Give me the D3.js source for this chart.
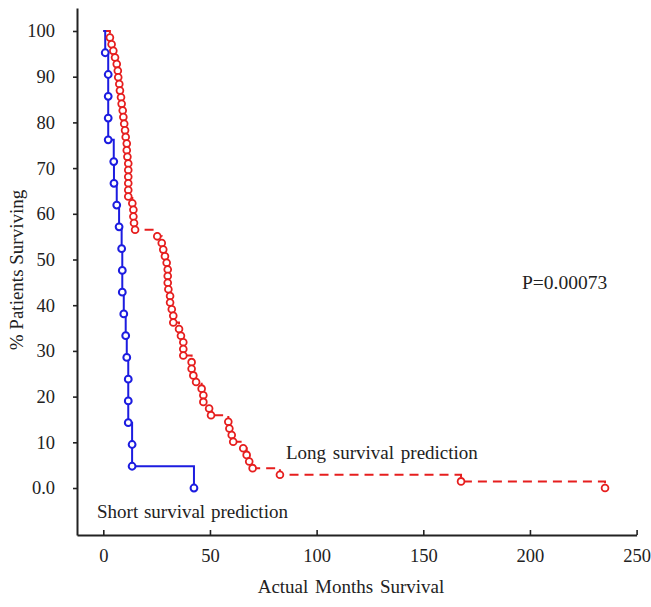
<!DOCTYPE html>
<html>
<head>
<meta charset="utf-8">
<script src="https://cdn.jsdelivr.net/npm/d3@7"></script>
<style>
  html, body { margin: 0; padding: 0; background: #fff; }
  svg { display: block; }
  text { font-family: "Liberation Serif", "Times New Roman", serif; fill: #222; }
</style>
</head>
<body>
<script>
// ---- data ----
const xTicks = [0, 50, 100, 150, 200, 250];
const yTicks = [0, 10, 20, 30, 40, 50, 60, 70, 80, 90, 100];

// Short survival prediction (months, % surviving at each step)
const shortMonths = [0.9, 2.3, 2.3, 2.3, 2.3, 4.9, 5.0, 6.3, 7.4, 8.6, 8.9, 8.9, 9.6, 10.5, 11.0, 11.7, 11.7, 11.7, 13.5, 13.5, 42.5];
const shortSurv   = [95.24, 90.48, 85.71, 80.95, 76.19, 71.43, 66.67, 61.90, 57.14, 52.38, 47.62, 42.86, 38.10, 33.33, 28.57, 23.81, 19.05, 14.29, 9.52, 4.76, 0];

// Long survival prediction
const longMonths = [3.1, 3.9, 4.7, 5.5, 6.3, 6.8, 7.0, 7.5, 7.8, 8.3, 8.6, 9.1, 9.4, 9.8, 10.2, 10.5, 11.0, 11.0, 11.3, 11.7,
  11.7, 11.7, 11.7, 11.7, 11.7, 13.6, 14.1, 14.1, 14.4, 14.9,
  25.3, 27.4, 28.1, 28.9, 29.7, 30.2, 30.2, 30.2, 30.5, 31.3, 31.3, 32.1, 32.8, 32.8, 35.5, 36.4, 37.5, 37.5, 37.5,
  41.4, 41.4, 42.2, 43.5, 46.1, 46.9, 46.9, 49.6, 50.5, 58.6, 59.1, 60.2, 60.9, 65.6, 67.2, 68.4, 70.0,
  82.8, 167.7, 235.2];
const longSurv = [98.55, 97.10, 95.65, 94.20, 92.75, 91.30, 89.86, 88.41, 86.96, 85.51, 84.06, 82.61, 81.16, 79.71, 78.26, 76.81, 75.36, 73.91, 72.46, 71.01,
  69.57, 68.12, 66.67, 65.22, 63.77, 62.32, 60.87, 59.42, 57.97, 56.52,
  55.07, 53.62, 52.17, 50.72, 49.28, 47.83, 46.38, 44.93, 43.48, 42.03, 40.58, 39.13, 37.68, 36.23, 34.78, 33.33, 31.88, 30.43, 28.99,
  27.54, 26.09, 24.64, 23.19, 21.74, 20.29, 18.84, 17.39, 15.94, 14.49, 13.04, 11.59, 10.14, 8.70, 7.25, 5.80, 4.35,
  2.90, 1.45, 0.00];

// ---- layout ----
const W = 651, H = 607;
const svg = d3.select("body").append("svg").attr("width", W).attr("height", H);

const x = d3.scaleLinear().domain([-12.33, 250]).range([77, 636.6]);
const y = d3.scaleLinear().domain([-10.28, 105.03]).range([535, 8]);

const BLUE = "#1c1ce0", RED = "#e61e1e";

// axes
const yAxis = d3.axisLeft(y).tickValues(yTicks).tickSizeInner(4).tickSizeOuter(0).tickPadding(18)
  .tickFormat(d => d === 0 ? "0.0" : d3.format("d")(d));
const gy = svg.append("g").attr("transform", `translate(${x(-12.33)},0)`).call(yAxis);

const xAxis = d3.axisBottom(x).tickValues(xTicks).tickSizeInner(-5).tickSizeOuter(0).tickPadding(14);
const gx = svg.append("g").attr("transform", `translate(0,${y(-10.28)})`).call(xAxis);

[gx, gy].forEach(g => {
  g.select(".domain").attr("stroke", "#222").attr("stroke-width", 2);
  g.selectAll(".tick line").attr("stroke", "#222").attr("stroke-width", 1.6);
  g.selectAll(".tick text").style("font-family", '"Liberation Serif", serif').style("font-size", "18.5px").attr("fill", "#222");
});

// axis titles
svg.append("text").attr("x", 351).attr("y", 593).attr("text-anchor", "middle")
  .style("font-size", "19px").style("word-spacing", "2px").text("Actual Months Survival");
svg.append("text").attr("transform", "translate(23,270) rotate(-90)").attr("text-anchor", "middle")
  .style("font-size", "19px").text("% Patients Surviving");

// KM curves
function kmPoints(months, surv) {
  const pts = [[0, 100]];
  months.forEach((m, i) => pts.push([m, surv[i]]));
  return pts;
}
const line = d3.line().x(d => x(d[0])).y(d => y(d[1])).curve(d3.curveStepAfter);

const longPts = kmPoints(longMonths, longSurv);
const shortPts = kmPoints(shortMonths, shortSurv);

svg.append("path").attr("d", line(longPts)).attr("fill", "none")
  .attr("stroke", RED).attr("stroke-width", 2).attr("stroke-dasharray", "9,6");
svg.append("path").attr("d", line(shortPts)).attr("fill", "none")
  .attr("stroke", BLUE).attr("stroke-width", 2);

svg.append("g").selectAll("circle").data(longPts.slice(1)).join("circle")
  .attr("cx", d => x(d[0])).attr("cy", d => y(d[1])).attr("r", 3.4)
  .attr("fill", "#fff").attr("stroke", RED).attr("stroke-width", 1.8);
svg.append("g").selectAll("circle").data(shortPts.slice(1)).join("circle")
  .attr("cx", d => x(d[0])).attr("cy", d => y(d[1])).attr("r", 3.4)
  .attr("fill", "#fff").attr("stroke", BLUE).attr("stroke-width", 2);

// annotations
svg.append("text").attr("x", 97).attr("y", 518).style("font-size", "19px").style("word-spacing", "1px").text("Short survival prediction");
svg.append("text").attr("x", 286).attr("y", 459).style("font-size", "19px").style("word-spacing", "2px").text("Long survival prediction");
svg.append("text").attr("x", 522).attr("y", 289).style("font-size", "19.5px").text("P=0.00073");
</script>
</body>
</html>
